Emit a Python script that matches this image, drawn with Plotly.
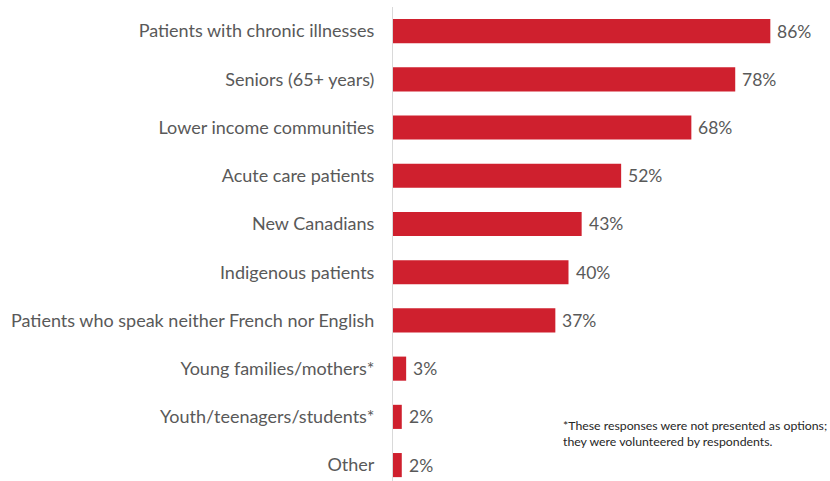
import plotly.graph_objects as go

categories = [
    "Patients with chronic illnesses",
    "Seniors (65+ years)",
    "Lower income communities",
    "Acute care patients",
    "New Canadians",
    "Indigenous patients",
    "Patients who speak neither French nor English",
    "Young families/mothers*",
    "Youth/teenagers/students*",
    "Other",
]
values = [86, 78, 68, 52, 43, 40, 37, 3, 2, 2]
value_labels = [f"{v}%" for v in values]

footnote = ("*These responses were not presented as options;<br>"
            "they were volunteered by respondents.")

BAR_RED = "#CF202E"
TEXT_GRAY = "#595959"
FONT = "Lato, 'Open Sans', sans-serif"

positions = list(range(len(categories)))

fig = go.Figure(
    go.Bar(
        x=values,
        y=positions,
        orientation="h",
        marker=dict(color=BAR_RED, line=dict(width=0)),
        width=0.5,
        hoverinfo="skip",
    )
)

# value labels placed just past the end of each bar
value_annotations = [
    dict(
        x=v,
        y=p,
        xref="x",
        yref="y",
        text=lbl,
        xanchor="left",
        yanchor="middle",
        xshift=5,
        showarrow=False,
        font=dict(family=FONT, size=17.5, color=TEXT_GRAY),
    )
    for v, p, lbl in zip(values, positions, value_labels)
]

fig.update_layout(
    width=830,
    height=481,
    margin=dict(l=393, r=0, t=7, b=0),
    paper_bgcolor="white",
    plot_bgcolor="white",
    showlegend=False,
    font=dict(family=FONT, size=18, color=TEXT_GRAY),
    xaxis=dict(
        range=[0, 99.6],
        showgrid=False,
        zeroline=False,
        showticklabels=False,
        ticks="",
        fixedrange=True,
    ),
    yaxis=dict(
        range=[9.33, -0.5],
        tickmode="array",
        tickvals=positions,
        ticktext=categories,
        ticks="",
        ticklabelstandoff=14,
        showgrid=False,
        zeroline=False,
        showline=True,
        linecolor="#D9D9D9",
        linewidth=1,
        tickfont=dict(family=FONT, size=18, color=TEXT_GRAY),
        fixedrange=True,
    ),
    annotations=value_annotations + [
        dict(
            text=footnote,
            xref="paper",
            yref="paper",
            x=(561 - 393) / (830 - 393),
            y=(481 - 416) / 474,
            xanchor="left",
            yanchor="top",
            align="left",
            showarrow=False,
            font=dict(family=FONT, size=12.3, color="#262626"),
        )
    ],
)

fig.write_html("out.html")
